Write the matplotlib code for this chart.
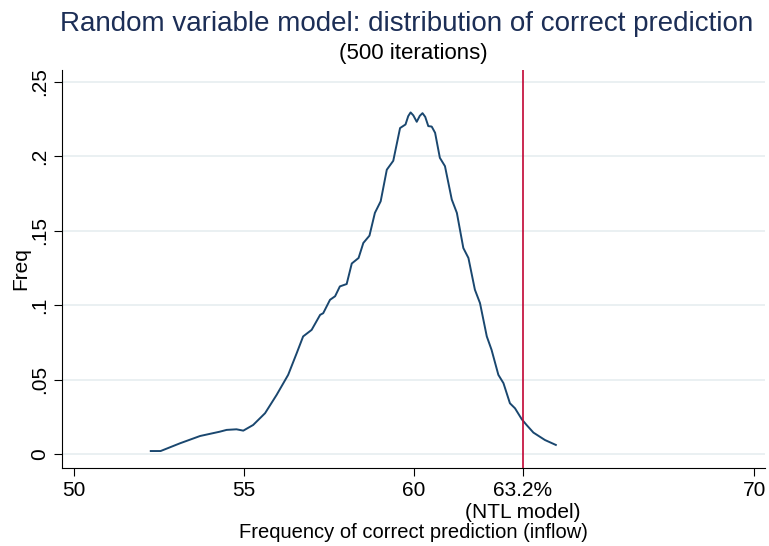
import numpy as np
import matplotlib.pyplot as plt

# density of correct-prediction frequency
x_vals = [52.26, 52.55, 53.12, 53.71, 54.29, 54.49, 54.78, 54.98, 55.27, 55.62,
          55.96, 56.30, 56.55, 56.74, 56.99, 57.24, 57.33, 57.53, 57.68, 57.82,
          58.02, 58.17, 58.37, 58.51, 58.69, 58.85, 59.02, 59.20, 59.39, 59.59,
          59.75, 59.83, 59.90, 59.98, 60.08, 60.17, 60.25, 60.33, 60.42, 60.52,
          60.62, 60.76, 60.91, 61.11, 61.26, 61.45, 61.60, 61.79, 61.94, 62.14,
          62.28, 62.48, 62.63, 62.82, 62.97, 63.17, 63.31, 63.51, 63.85, 64.17]
y_vals = [0.002, 0.002, 0.0072, 0.0121, 0.015, 0.0162, 0.0166, 0.0157, 0.0195, 0.0274,
          0.0397, 0.0532, 0.0677, 0.079, 0.0834, 0.0935, 0.0946, 0.1036, 0.106, 0.1126,
          0.1142, 0.128, 0.1317, 0.1418, 0.1467, 0.162, 0.1698, 0.191, 0.197, 0.219,
          0.2214, 0.227, 0.2295, 0.2275, 0.2232, 0.2272, 0.229, 0.2265, 0.2203, 0.22,
          0.2158, 0.199, 0.1934, 0.171, 0.162, 0.1384, 0.1317, 0.1104, 0.1014, 0.079,
          0.07, 0.0532, 0.0476, 0.0341, 0.0307, 0.0233, 0.0195, 0.0144, 0.0094, 0.0061]
ntl_model = 63.2

x_ticks = [50, 55, 60, ntl_model, 70]
x_ticklabels = ['50', '55', '60', '63.2%\n(NTL model)', '70']
y_ticks = [0, 0.05, 0.1, 0.15, 0.2, 0.25]
y_ticklabels = ['0', '.05', '.1', '.15', '.2', '.25']

plt.rcParams['font.family'] = ['Liberation Sans', 'DejaVu Sans']

fig = plt.figure(figsize=(7.69, 5.46), dpi=100)
ax = fig.add_axes([62 / 769, 1 - 468 / 546, (765 - 62) / 769, (468 - 70) / 546])

ax.plot(x_vals, y_vals, color='#1a476f', lw=1.4, solid_joinstyle='round')
ax.axvline(ntl_model, color='#c10534', lw=1.2)

ax.set_xlim(49.65, 70.32)
ax.set_ylim(-0.0094, 0.258)
ax.set_xticks(x_ticks)
ax.set_xticklabels(x_ticklabels, fontsize=15, linespacing=1.2)
ax.set_yticks(y_ticks)
ax.set_yticklabels(y_ticklabels, fontsize=15, rotation=90, va='center')
ax.tick_params(length=6, width=0.8, pad=3)
ax.grid(axis='y', color='#e6eef0', lw=1.2)
ax.set_axisbelow(True)
for s in ['top', 'right']:
    ax.spines[s].set_visible(False)

ax.set_xlabel('Frequency of correct prediction (inflow)', fontsize=14.5, labelpad=1)
ax.set_ylabel('Freq', fontsize=15, labelpad=0)

fig.text(0.529, 0.956, 'Random variable model: distribution of correct prediction',
         ha='center', va='center', fontsize=20, color='#1c2e56')
fig.text(0.538, 0.902, '(500 iterations)', ha='center', va='center', fontsize=16)

fig.savefig('out.png', dpi=100)
